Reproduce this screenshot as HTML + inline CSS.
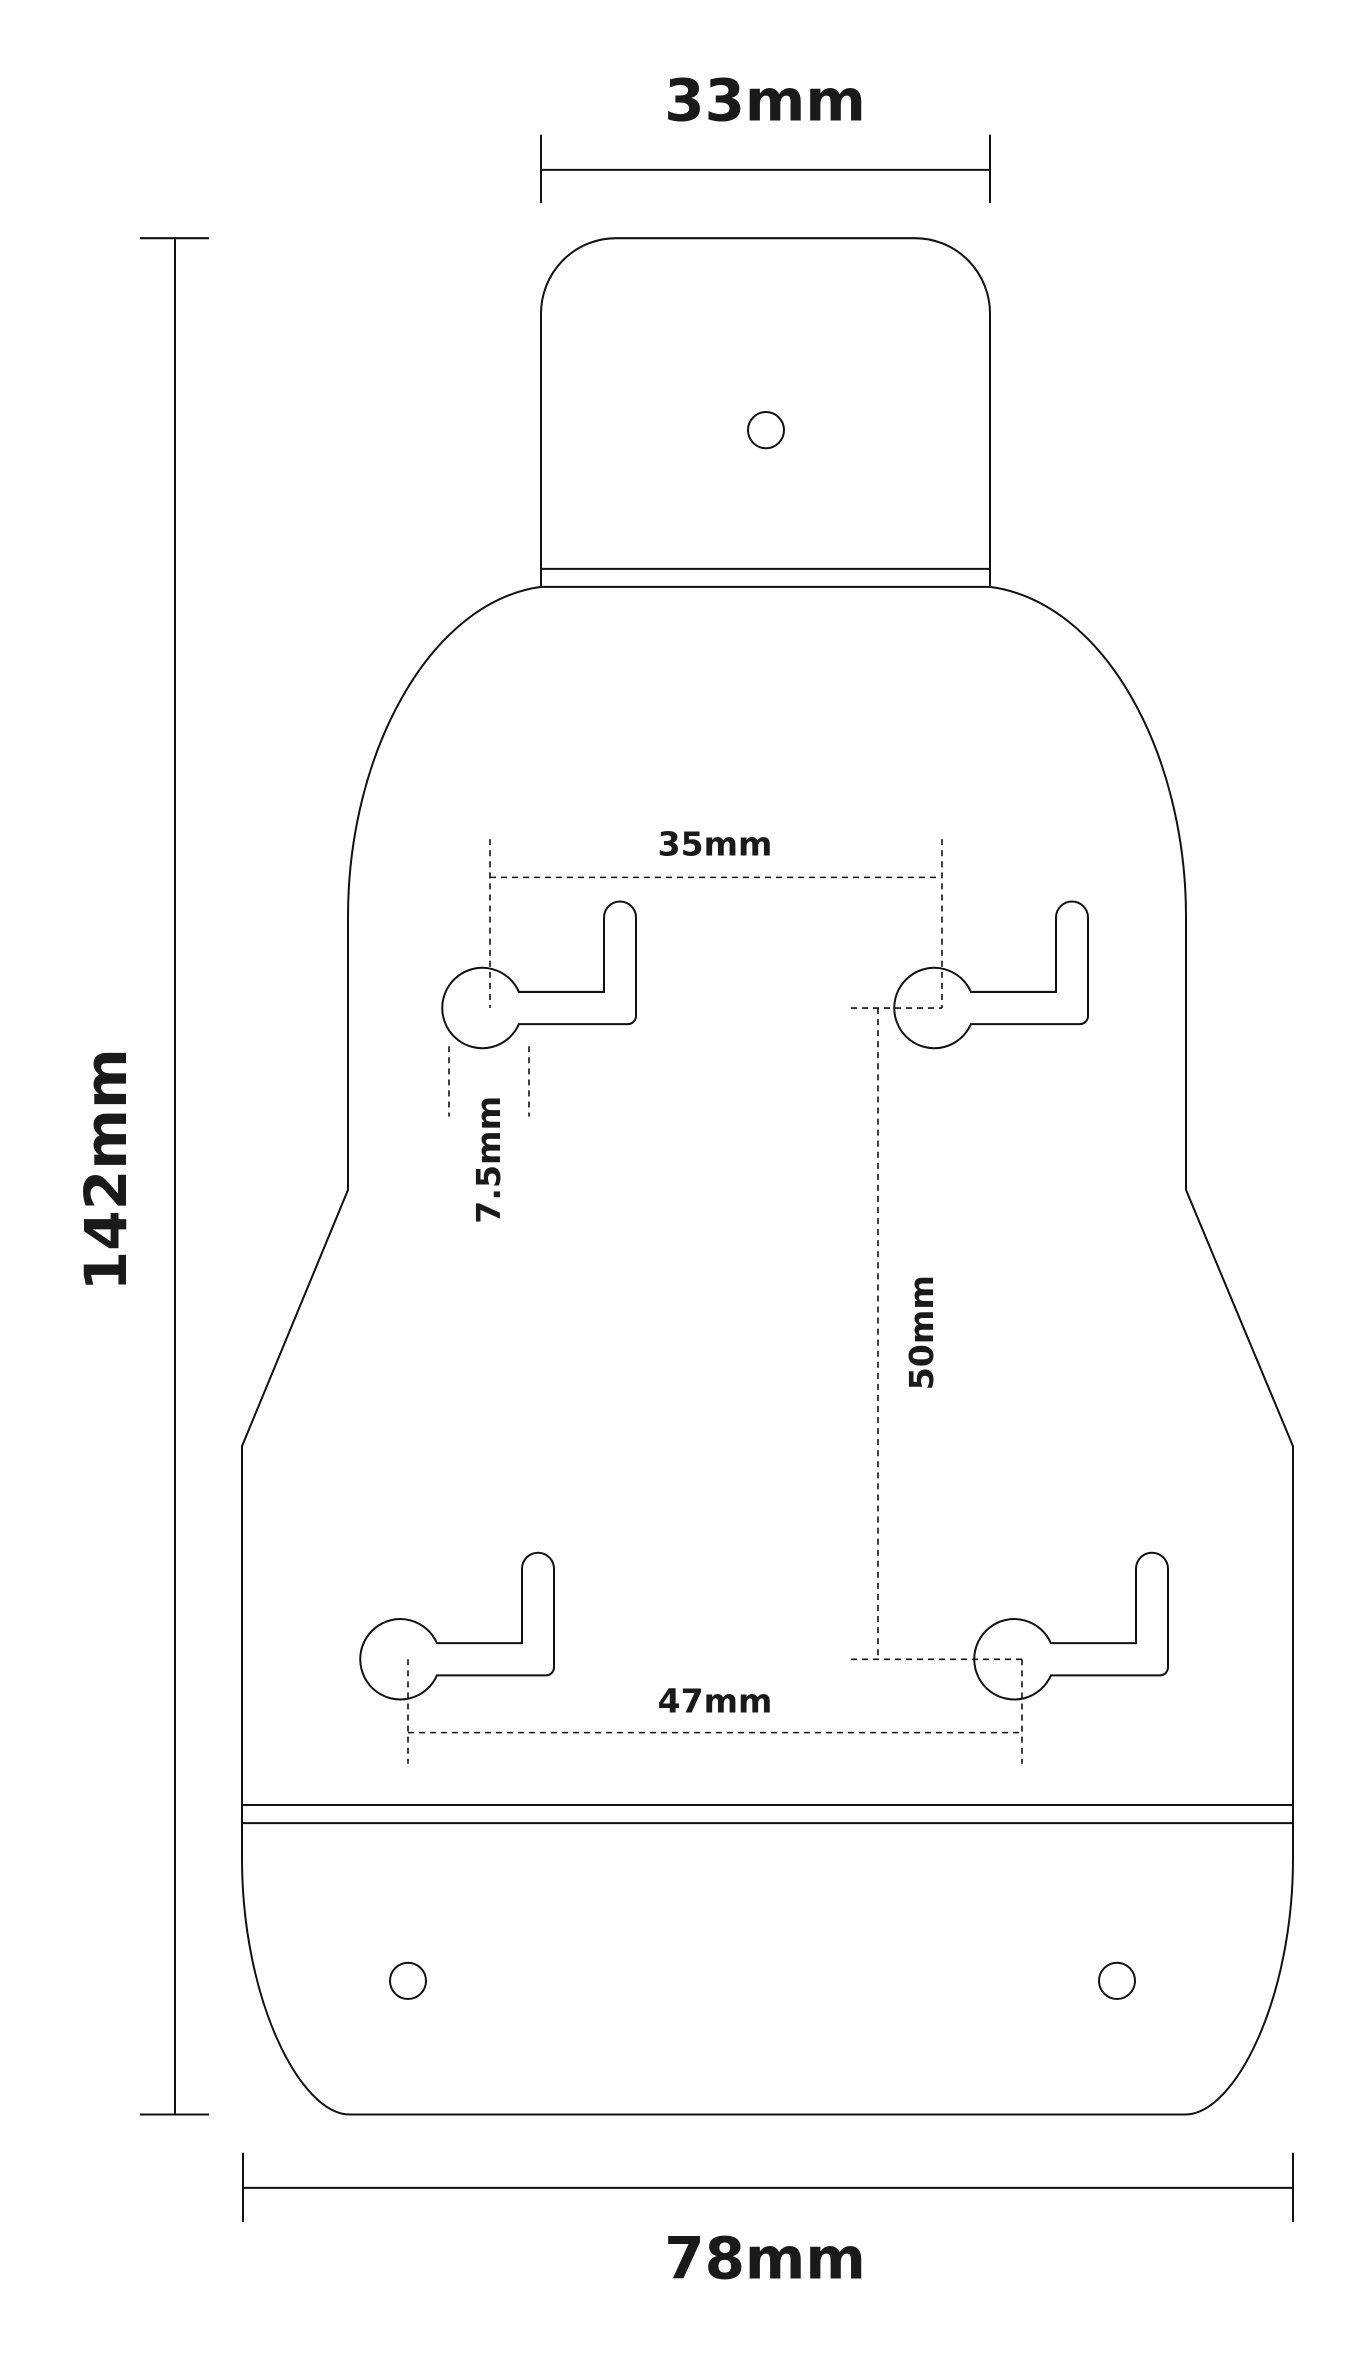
<!DOCTYPE html>
<html><head><meta charset="utf-8"><style>html,body{margin:0;padding:0;background:#fff}svg{display:block}</style></head>
<body>
<svg width="1358" height="2362" viewBox="0 0 1358 2362" xmlns="http://www.w3.org/2000/svg">
<defs>
<path id="kh" d="M28.9,-16 A40,40 0 1 0 28.9,16 L138,16 A8,8 0 0 0 146,8 L146,-90 A16,16 0 0 0 114,-90 L114,-16 Z"/>
</defs>
<g transform="translate(0,-1) scale(1,1.005)">
<g fill="none" stroke="#111" stroke-width="2">
<line x1="541" y1="170" x2="990" y2="170"/>
<line x1="541" y1="135" x2="541" y2="203"/>
<line x1="990" y1="135" x2="990" y2="203"/>
<line x1="175" y1="238" x2="175" y2="2105"/>
<line x1="140" y1="238" x2="209" y2="238"/>
<line x1="140" y1="2105" x2="209" y2="2105"/>
<line x1="243" y1="2178" x2="1293" y2="2178"/>
<line x1="243" y1="2143" x2="243" y2="2212"/>
<line x1="1293" y1="2143" x2="1293" y2="2212"/>
<path d="M541,585 L541,313 A75,75 0 0 1 616,238 L915,238 A75,75 0 0 1 990,313 L990,585"/>
<line x1="541" y1="567" x2="990" y2="567"/>
<line x1="541" y1="585" x2="990" y2="585"/>
<ellipse cx="766" cy="429" rx="18" ry="18"/>
<path d="M541,585 C430,600 348,750 348,913 L348,1185 L242,1440 L242,1850 C242,1990 300,2105 350,2105 L1185,2105 C1235,2105 1293,1990 1293,1850 L1293,1440 L1186,1185 L1186,913 C1186,750 1104,600 990,585"/>
<line x1="242" y1="1797" x2="1293" y2="1797"/>
<line x1="242" y1="1815" x2="1293" y2="1815"/>
<ellipse cx="408" cy="1972" rx="18" ry="18"/>
<ellipse cx="1117" cy="1972" rx="18" ry="18"/>
<use href="#kh" transform="translate(490,1004)"/>
<use href="#kh" transform="translate(942,1004)"/>
<use href="#kh" transform="translate(408,1652)"/>
<use href="#kh" transform="translate(1022,1652)"/>
</g>
<g fill="none" stroke="#111" stroke-width="1.6" stroke-dasharray="6,5">
<line x1="490" y1="874" x2="942" y2="874"/>
<line x1="490" y1="836" x2="490" y2="1004"/>
<line x1="942" y1="836" x2="942" y2="1004"/>
<line x1="449" y1="1042" x2="449" y2="1112"/>
<line x1="529" y1="1042" x2="529" y2="1112"/>
<line x1="878" y1="1004" x2="878" y2="1652"/>
<line x1="851" y1="1004" x2="942" y2="1004"/>
<line x1="851" y1="1652" x2="1022" y2="1652"/>
<line x1="408" y1="1725" x2="1022" y2="1725"/>
<line x1="408" y1="1652" x2="408" y2="1756"/>
<line x1="1022" y1="1652" x2="1022" y2="1756"/>
</g>
<g font-family="'DejaVu Sans','Liberation Sans',sans-serif" font-weight="bold" fill="#1a1a1a" text-anchor="middle">
<text x="765" y="121" font-size="58">33mm</text>
<text x="765" y="2268" font-size="58">78mm</text>
<text transform="translate(126,1165) rotate(-90)" font-size="58">142mm</text>
<text x="715" y="852" font-size="33">35mm</text>
<text x="715" y="1705" font-size="33">47mm</text>
<text transform="translate(500,1155) rotate(-90)" font-size="33">7.5mm</text>
<text transform="translate(933,1327) rotate(-90)" font-size="33">50mm</text>
</g>
</g>
</svg>
</body></html>
